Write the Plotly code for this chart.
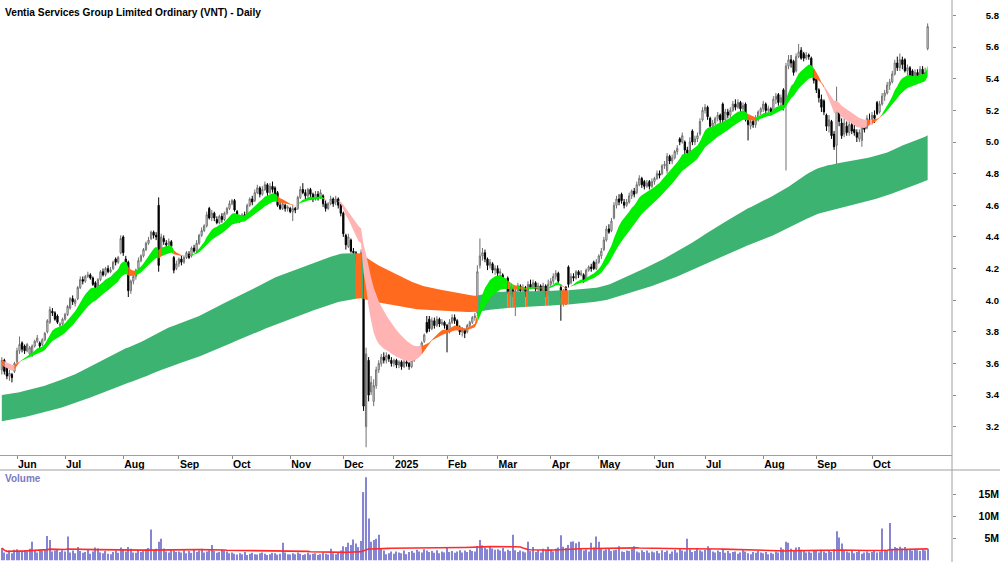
import numpy as np
import pandas as pd
import plotly.graph_objects as go

TITLE = "Ventia Services Group Limited Ordinary (VNT) - Daily"

# ---- trading calendar (ASX) ----
START, END = "2024-05-24", "2025-10-31"
HOLIDAYS = ["2024-06-10", "2024-12-25", "2024-12-26", "2025-01-01", "2025-01-27",
            "2025-04-18", "2025-04-21", "2025-04-25", "2025-06-09"]
month_labels = ["Jun", "Jul", "Aug", "Sep", "Oct", "Nov", "Dec", "2025", "Feb", "Mar",
                "Apr", "May", "Jun", "Jul", "Aug", "Sep", "Oct"]
price_ticks = [3.2, 3.4, 3.6, 3.8, 4.0, 4.2, 4.4, 4.6, 4.8, 5.0, 5.2, 5.4, 5.6, 5.8]
volume_ticks = [5e6, 10e6, 15e6]
volume_tick_text = ["5M", "10M", "15M"]

# ---- daily prices (one row per month) ----
opens = [
 3.56,3.62,3.58,3.52,3.53,3.55,
 3.61,3.68,3.73,3.71,3.68,3.66,3.65,3.71,3.74,3.73,3.72,3.75,3.80,3.86,3.93,3.92,3.90,3.84,3.85,
 3.88,3.91,3.95,4.01,3.98,4.01,4.08,4.13,4.12,4.15,4.16,4.14,4.11,4.08,4.13,4.18,4.16,4.20,4.18,4.20,4.26,4.24,4.30,
 4.40,4.26,4.24,4.06,4.12,4.15,4.20,4.25,4.28,4.32,4.36,4.39,4.43,4.41,4.60,4.30,4.39,4.36,4.35,4.37,4.27,4.20,
 4.23,4.26,4.24,4.27,4.29,4.28,4.33,4.31,4.36,4.41,4.44,4.47,4.58,4.52,4.55,4.51,4.49,4.53,4.51,4.55,4.58,
 4.61,4.63,4.56,4.52,4.51,4.54,4.53,4.60,4.64,4.63,4.68,4.71,4.67,4.70,4.73,4.68,4.72,4.71,4.68,4.60,4.58,4.60,4.58,
 4.58,4.56,4.58,4.58,4.65,4.70,4.68,4.66,4.70,4.67,4.64,4.67,4.65,4.66,4.61,4.58,4.61,4.64,4.62,4.64,4.60,
 4.55,4.41,4.34,4.38,4.31,4.30,4.25,4.22,4.28,3.20,3.62,3.42,3.36,3.46,3.56,3.60,3.64,3.62,3.65,3.62,
 3.60,3.62,3.59,3.61,3.58,3.61,3.60,3.58,3.62,3.64,3.66,3.70,3.74,3.86,3.88,3.82,3.87,3.84,3.88,3.85,3.86,
 3.84,3.80,3.86,3.89,3.87,3.83,3.80,3.81,3.80,3.84,3.86,3.89,3.92,4.22,4.28,4.30,4.26,4.22,4.23,4.19,
 4.20,4.17,4.16,4.09,4.14,4.05,4.07,4.04,4.06,4.09,4.06,4.08,4.05,4.10,4.08,4.11,4.07,4.09,4.06,4.09,4.04,
 4.10,4.12,4.15,4.17,4.08,4.00,4.08,4.21,4.11,4.15,4.14,4.18,4.16,4.16,4.13,4.19,4.21,4.24,4.20,
 4.24,4.28,4.32,4.38,4.45,4.44,4.52,4.60,4.64,4.67,4.62,4.60,4.62,4.66,4.69,4.68,4.73,4.77,4.75,4.72,4.75,4.72,
 4.75,4.77,4.80,4.80,4.85,4.82,4.91,4.88,4.90,4.94,5.02,5.00,5.00,4.95,4.94,5.07,5.00,5.02,5.05,5.14,
 5.20,5.22,5.15,5.10,5.12,5.15,5.17,5.24,5.14,5.19,5.17,5.20,5.24,5.22,5.25,5.21,5.24,5.15,5.10,5.13,5.11,5.14,5.19,
 5.21,5.24,5.20,5.21,5.20,5.27,5.30,5.25,5.33,5.25,5.48,5.52,5.51,5.45,5.54,5.58,5.56,5.53,5.55,5.53,5.45,
 5.40,5.33,5.27,5.26,5.17,5.10,5.13,5.05,4.98,5.22,5.12,5.05,5.10,5.06,5.11,5.08,5.06,5.02,5.01,5.10,5.09,5.14,
 5.13,5.17,5.25,5.19,5.24,5.29,5.31,5.36,5.38,5.43,5.50,5.47,5.52,5.52,5.45,5.47,5.45,5.40,5.44,5.41,5.46,5.42,5.59,
]
highs = [
 3.64,3.63,3.60,3.56,3.54,3.61,
 3.70,3.77,3.74,3.72,3.73,3.71,3.72,3.75,3.78,3.74,3.76,3.80,3.88,3.96,3.95,3.93,3.91,3.86,3.89,
 3.92,3.97,4.02,4.03,4.01,4.09,4.15,4.15,4.16,4.18,4.17,4.15,4.12,4.14,4.19,4.20,4.21,4.22,4.21,4.25,4.27,4.28,4.41,
 4.41,4.28,4.25,4.13,4.17,4.20,4.27,4.29,4.33,4.37,4.40,4.44,4.44,4.43,4.65,4.42,4.41,4.38,4.39,4.38,4.28,4.25,
 4.27,4.28,4.28,4.31,4.31,4.34,4.35,4.38,4.42,4.46,4.48,4.56,4.59,4.57,4.56,4.53,4.54,4.55,4.56,4.59,4.63,
 4.64,4.64,4.57,4.54,4.55,4.56,4.61,4.65,4.66,4.70,4.73,4.72,4.72,4.75,4.74,4.74,4.75,4.72,4.69,4.62,4.62,4.61,4.60,
 4.59,4.60,4.59,4.66,4.72,4.74,4.70,4.71,4.71,4.68,4.69,4.69,4.70,4.67,4.63,4.62,4.66,4.65,4.66,4.65,4.61,
 4.56,4.42,4.42,4.39,4.33,4.31,4.27,4.32,4.29,3.70,3.64,3.52,3.50,3.58,3.62,3.66,3.67,3.67,3.66,3.64,
 3.63,3.63,3.62,3.62,3.63,3.62,3.61,3.63,3.66,3.68,3.71,3.74,3.79,3.90,3.90,3.89,3.89,3.90,3.89,3.88,3.87,
 3.85,3.88,3.91,3.91,3.88,3.84,3.83,3.82,3.85,3.87,3.90,3.92,4.22,4.39,4.33,4.32,4.27,4.26,4.24,4.22,
 4.22,4.20,4.17,4.13,4.15,4.09,4.08,4.08,4.11,4.10,4.10,4.09,4.12,4.13,4.13,4.12,4.11,4.10,4.11,4.10,4.13,
 4.14,4.17,4.19,4.18,4.10,4.07,4.09,4.22,4.17,4.17,4.19,4.19,4.19,4.17,4.20,4.22,4.23,4.25,4.26,
 4.29,4.33,4.40,4.47,4.48,4.52,4.62,4.66,4.67,4.68,4.64,4.64,4.68,4.70,4.71,4.75,4.79,4.78,4.76,4.76,4.76,4.77,
 4.78,4.82,4.82,4.86,4.88,4.93,4.92,4.92,4.95,4.98,5.03,5.06,5.01,4.97,5.03,5.08,5.04,5.06,5.15,5.22,
 5.24,5.23,5.16,5.14,5.16,5.19,5.18,5.25,5.21,5.21,5.22,5.26,5.27,5.27,5.26,5.25,5.25,5.16,5.15,5.16,5.17,5.20,5.22,
 5.26,5.25,5.23,5.22,5.29,5.31,5.31,5.30,5.34,5.50,5.55,5.55,5.52,5.56,5.62,5.60,5.57,5.57,5.56,5.54,5.46,
 5.41,5.34,5.30,5.27,5.18,5.17,5.14,5.07,5.35,5.24,5.15,5.15,5.13,5.13,5.12,5.11,5.08,5.08,5.11,5.13,5.17,5.18,
 5.19,5.20,5.26,5.26,5.31,5.33,5.38,5.40,5.45,5.52,5.54,5.56,5.54,5.53,5.49,5.48,5.46,5.46,5.46,5.48,5.48,5.47,5.75,
]
lows = [
 3.53,3.53,3.50,3.49,3.48,3.54,
 3.60,3.66,3.67,3.66,3.67,3.65,3.64,3.70,3.73,3.69,3.71,3.74,3.79,3.85,3.90,3.87,3.85,3.80,3.84,
 3.87,3.90,3.94,3.97,3.96,4.00,4.07,4.10,4.11,4.14,4.13,4.09,4.07,4.07,4.12,4.15,4.15,4.17,4.17,4.19,4.22,4.23,4.29,
 4.28,4.21,4.02,4.04,4.10,4.13,4.19,4.24,4.27,4.31,4.35,4.38,4.39,4.38,4.18,4.28,4.35,4.33,4.34,4.32,4.17,4.19,
 4.21,4.22,4.23,4.26,4.26,4.27,4.30,4.30,4.35,4.40,4.43,4.46,4.51,4.50,4.50,4.48,4.48,4.49,4.50,4.54,4.57,
 4.60,4.56,4.50,4.49,4.50,4.51,4.52,4.59,4.60,4.62,4.67,4.65,4.66,4.69,4.66,4.67,4.68,4.65,4.59,4.57,4.57,4.56,4.56,
 4.55,4.50,4.55,4.57,4.64,4.67,4.64,4.65,4.64,4.62,4.63,4.63,4.64,4.59,4.56,4.57,4.60,4.59,4.60,4.58,4.53,
 4.40,4.32,4.33,4.30,4.28,4.23,4.20,4.21,3.30,3.07,3.36,3.40,3.33,3.44,3.54,3.58,3.60,3.60,3.61,3.58,
 3.58,3.57,3.57,3.56,3.57,3.58,3.56,3.57,3.61,3.63,3.65,3.69,3.73,3.79,3.80,3.81,3.82,3.83,3.83,3.84,3.82,
 3.67,3.79,3.85,3.85,3.81,3.78,3.77,3.76,3.79,3.83,3.85,3.87,3.90,4.20,4.25,4.24,4.19,4.20,4.17,4.16,
 4.15,4.14,4.07,4.07,4.04,4.03,4.02,3.90,4.05,4.04,4.04,4.02,4.04,4.07,4.07,4.05,4.05,4.05,4.05,4.02,4.03,
 4.08,4.10,4.13,4.10,3.87,3.96,3.97,4.08,4.10,4.12,4.13,4.14,4.15,4.11,4.12,4.18,4.18,4.19,4.19,
 4.23,4.26,4.31,4.37,4.42,4.43,4.51,4.58,4.60,4.61,4.58,4.59,4.61,4.64,4.65,4.67,4.72,4.71,4.70,4.71,4.70,4.71,
 4.73,4.76,4.77,4.79,4.83,4.80,4.86,4.86,4.89,4.92,4.98,4.99,4.92,4.90,4.93,4.98,4.98,5.00,5.04,5.13,
 5.18,5.14,5.08,5.07,5.10,5.13,5.12,5.12,5.13,5.15,5.15,5.19,5.20,5.21,5.19,5.20,5.13,5.01,5.08,5.09,5.09,5.13,5.17,
 5.19,5.18,5.17,5.17,5.19,5.24,5.23,5.23,5.20,4.82,5.46,5.47,5.42,5.44,5.53,5.52,5.51,5.52,5.52,5.44,5.37,
 5.31,5.25,5.19,5.17,5.07,5.06,5.02,4.95,4.61,5.10,5.02,5.03,5.04,5.04,5.05,5.04,5.00,5.00,4.97,5.06,5.08,5.11,
 5.11,5.12,5.17,5.18,5.23,5.26,5.30,5.33,5.37,5.42,5.45,5.45,5.46,5.44,5.42,5.40,5.38,5.38,5.39,5.40,5.41,5.40,5.58,
]
closes = [
 3.62,3.55,3.52,3.54,3.51,3.60,
 3.68,3.72,3.69,3.68,3.72,3.70,3.71,3.74,3.76,3.71,3.75,3.79,3.87,3.94,3.92,3.88,3.86,3.85,3.88,
 3.91,3.96,4.01,3.99,4.00,4.08,4.13,4.12,4.15,4.16,4.14,4.10,4.08,4.13,4.18,4.16,4.20,4.18,4.19,4.24,4.24,4.27,4.39,
 4.30,4.24,4.06,4.12,4.15,4.19,4.25,4.28,4.32,4.36,4.38,4.43,4.41,4.40,4.22,4.40,4.37,4.35,4.37,4.34,4.19,4.23,
 4.26,4.24,4.27,4.30,4.27,4.33,4.31,4.36,4.41,4.44,4.47,4.54,4.52,4.55,4.52,4.49,4.53,4.51,4.55,4.58,4.61,
 4.63,4.57,4.52,4.51,4.54,4.52,4.60,4.64,4.62,4.68,4.71,4.67,4.70,4.73,4.68,4.72,4.70,4.66,4.60,4.58,4.61,4.58,4.59,
 4.56,4.58,4.57,4.65,4.70,4.68,4.66,4.70,4.67,4.64,4.67,4.65,4.68,4.61,4.58,4.61,4.64,4.61,4.64,4.60,4.55,
 4.42,4.35,4.40,4.31,4.30,4.25,4.22,4.30,3.33,3.66,3.40,3.48,3.46,3.56,3.60,3.64,3.62,3.65,3.63,3.60,
 3.62,3.59,3.61,3.58,3.61,3.60,3.58,3.62,3.64,3.66,3.70,3.73,3.78,3.80,3.82,3.87,3.84,3.88,3.85,3.86,3.84,
 3.80,3.86,3.89,3.87,3.83,3.80,3.81,3.79,3.84,3.86,3.89,3.90,4.18,4.28,4.30,4.26,4.22,4.24,4.19,4.20,
 4.17,4.18,4.09,4.11,4.05,4.07,4.04,4.06,4.09,4.06,4.08,4.04,4.10,4.08,4.11,4.07,4.09,4.06,4.09,4.04,4.10,
 4.12,4.15,4.17,4.12,4.02,4.06,3.99,4.10,4.15,4.14,4.18,4.16,4.17,4.12,4.19,4.21,4.20,4.20,4.24,
 4.28,4.31,4.38,4.45,4.43,4.50,4.60,4.64,4.62,4.63,4.60,4.62,4.66,4.69,4.67,4.73,4.77,4.73,4.72,4.74,4.72,4.75,
 4.77,4.80,4.79,4.85,4.86,4.91,4.88,4.90,4.94,4.96,5.00,5.04,4.95,4.93,5.00,5.00,5.02,5.04,5.13,5.20,
 5.22,5.16,5.10,5.12,5.15,5.17,5.14,5.14,5.19,5.17,5.20,5.24,5.22,5.25,5.21,5.23,5.15,5.11,5.13,5.11,5.14,5.19,5.21,
 5.24,5.20,5.21,5.19,5.27,5.29,5.25,5.28,5.22,5.48,5.52,5.50,5.44,5.54,5.57,5.53,5.53,5.55,5.54,5.46,5.39,
 5.33,5.28,5.22,5.19,5.10,5.14,5.04,4.97,5.25,5.13,5.04,5.12,5.06,5.11,5.07,5.06,5.03,5.06,5.10,5.08,5.15,5.13,
 5.17,5.15,5.18,5.24,5.29,5.31,5.36,5.38,5.43,5.50,5.47,5.52,5.49,5.45,5.47,5.42,5.40,5.44,5.41,5.46,5.43,5.44,5.73,
]
# volume in millions of shares
volumes_m = [
 2.8,1.8,1.5,2.2,1.6,2.4,
 2.5,2.1,1.9,2.3,2.0,2.6,4.2,2.2,1.8,2.4,2.1,2.3,5.5,4.6,2.0,2.2,2.5,1.9,2.3,
 2.0,5.4,1.8,2.2,1.6,3.0,2.1,1.7,1.9,2.4,1.5,2.0,2.9,2.7,1.8,1.6,2.1,1.5,1.4,1.9,2.2,1.7,2.9,
 2.4,2.0,3.0,2.6,1.8,1.7,2.2,1.9,2.1,2.5,2.8,7.0,2.3,2.6,4.2,4.9,2.7,2.0,1.8,2.4,2.2,1.9,
 2.0,1.8,2.3,1.6,2.1,1.7,2.4,1.9,2.2,2.6,1.8,2.0,2.3,3.5,2.1,1.7,1.9,2.4,2.2,2.0,1.6,
 1.8,1.5,1.3,1.6,1.4,1.9,1.2,1.5,1.7,1.4,1.3,1.6,1.8,1.5,1.2,1.4,1.7,1.6,1.3,1.5,4.0,1.8,1.4,
 1.3,1.6,1.4,1.8,1.5,1.2,1.4,1.7,1.3,1.5,1.6,1.2,1.4,1.8,1.5,1.3,2.6,1.6,1.4,1.9,2.2,
 3.2,3.0,4.0,3.5,4.7,3.8,3.0,4.4,15.5,18.9,9.5,4.2,4.6,4.9,5.8,2.6,2.2,1.4,1.6,2.0,
 1.5,2.0,1.8,1.6,2.2,1.4,1.9,2.1,1.7,2.4,2.0,1.8,2.5,2.2,1.9,2.1,1.7,2.3,1.6,2.0,1.8,
 2.8,1.9,2.1,1.7,2.0,2.3,1.8,2.2,1.9,2.4,2.1,2.0,3.2,4.6,3.4,2.9,2.5,3.0,2.7,2.4,
 2.5,2.2,2.8,2.0,2.4,2.1,5.8,2.3,1.9,2.2,2.0,1.8,4.2,2.1,3.0,1.9,2.3,1.8,2.6,2.2,3.1,
 2.4,2.0,2.6,2.9,5.7,3.1,2.8,3.5,4.2,4.3,3.9,4.2,2.7,2.2,2.5,2.0,4.0,2.9,5.4,
 4.2,2.6,2.2,2.5,2.8,2.1,2.3,2.4,3.2,2.0,1.9,2.2,2.1,2.6,3.2,2.0,1.8,2.3,1.9,2.2,1.7,2.0,
 1.8,2.1,1.6,2.3,1.9,2.2,1.5,2.0,2.4,1.8,2.6,2.2,2.0,4.9,2.5,1.9,2.1,2.8,2.3,2.0,
 2.4,3.2,2.6,2.0,1.8,2.2,1.9,2.5,1.7,2.1,1.6,1.9,2.0,1.5,1.8,2.3,2.0,1.6,1.4,1.9,1.7,2.1,1.8,
 1.6,1.9,1.4,1.7,1.5,2.0,1.8,2.9,2.5,4.2,4.0,2.6,2.2,2.9,3.0,2.4,2.1,1.8,2.0,1.7,2.3,
 2.1,1.8,2.4,2.0,1.7,2.2,1.9,2.5,6.6,5.2,3.8,2.3,2.0,1.8,2.2,1.6,1.9,2.1,1.5,1.8,2.0,1.7,
 1.9,2.2,1.8,2.0,7.2,2.4,2.1,8.5,2.6,3.0,2.8,3.1,2.7,3.0,2.4,2.6,2.2,2.5,2.3,2.1,2.4,2.2,2.6,
]

# starting levels of the averages, read at the first bar of the chart
SHORT_SEEDS = {10: 3.585, 21: 3.62}
LONG_SEEDS = {140: 3.40, 250: 3.235}

# ---------------------------------------------------------------
dates = [d for d in pd.bdate_range(START, END) if d.strftime("%Y-%m-%d") not in HOLIDAYS]
n = len(dates)
assert len(opens) == len(highs) == len(lows) == len(closes) == len(volumes_m) == n, \
    (n, len(opens), len(highs), len(lows), len(closes), len(volumes_m))
idx = np.arange(n)
C = np.array(closes)
vol = np.array(volumes_m) * 1e6

month_pos = [i for i in range(1, n) if dates[i].month != dates[i - 1].month]


def ema(values, period, seed):
    a = 2.0 / (period + 1)
    out = [seed]
    for v in values[1:]:
        out.append(out[-1] + a * (v - out[-1]))
    return np.array(out)


s_fast, s_slow = [ema(C, p, v) for p, v in SHORT_SEEDS.items()]
l_fast, l_slow = [ema(C, p, v) for p, v in LONG_SEEDS.items()]

GREEN = "#00ee00"
DKGREEN = "#3cb371"
ORANGE = "#ff6a1f"
PINK = "#ffb3b3"

long_cols, short_cols = [], []
for i in range(n):
    lb = True if i == 0 else l_fast[i] >= l_fast[i - 1]
    long_cols.append(DKGREEN if lb else ORANGE)
    slow_up = True if i == 0 else s_slow[i] >= s_slow[i - 1]
    if s_fast[i] < s_slow[i] and not slow_up:
        short_cols.append(PINK)
    elif s_fast[i] > s_slow[i] and slow_up and lb:
        short_cols.append(GREEN)
    else:
        short_cols.append(ORANGE)


def band_traces(upper, lower, cols):
    traces = []
    s = 0
    for i in range(1, n + 1):
        if i == n or cols[i] != cols[s]:
            e = min(i, n - 1)
            xs = list(range(s, e + 1))
            traces.append(go.Scatter(
                x=xs + xs[::-1],
                y=list(upper[s:e + 1]) + list(lower[s:e + 1])[::-1],
                fill="toself", fillcolor=cols[s], mode="lines",
                line=dict(width=0, color=cols[s]), hoverinfo="skip",
                showlegend=False, xaxis="x", yaxis="y"))
            s = i
    return traces


fig = go.Figure()
for t in band_traces(np.maximum(l_fast, l_slow), np.minimum(l_fast, l_slow), long_cols):
    fig.add_trace(t)
for t in band_traces(np.maximum(s_fast, s_slow), np.minimum(s_fast, s_slow), short_cols):
    fig.add_trace(t)

fig.add_trace(go.Candlestick(
    x=idx, open=opens, high=highs, low=lows, close=closes,
    increasing=dict(line=dict(color="#707070", width=1), fillcolor="white"),
    decreasing=dict(line=dict(color="black", width=1), fillcolor="black"),
    whiskerwidth=0, showlegend=False, xaxis="x", yaxis="y"))

vol_ma = pd.Series(vol).rolling(63, min_periods=1).mean().values
fig.add_trace(go.Bar(x=idx, y=vol, width=0.45, marker=dict(color="#8585d3", line=dict(width=0)),
                     showlegend=False, xaxis="x2", yaxis="y2"))
fig.add_trace(go.Scatter(x=idx, y=vol_ma, mode="lines", line=dict(color="#ff2a2a", width=1.6),
                         showlegend=False, xaxis="x2", yaxis="y2"))
# invisible anchors for the label axes
fig.add_trace(go.Scatter(x=[0], y=[4.0], mode="markers", marker=dict(opacity=0),
                         hoverinfo="skip", showlegend=False, xaxis="x", yaxis="y3"))
fig.add_trace(go.Scatter(x=[0], y=[1e6], mode="markers", marker=dict(opacity=0),
                         hoverinfo="skip", showlegend=False, xaxis="x2", yaxis="y4"))

# ---- layout ----
W, H = 1000, 562
plot_right = 952
px_per_bar = (872 - 17) / (month_pos[-1] - month_pos[0])
r0 = month_pos[0] - 17 / px_per_bar
r1 = r0 + plot_right / px_per_bar

price_top, price_bot = 5.8 + 15.5 / 158.15, 3.2 - 28.3 / 158.15
vol_top, vol_bot = (560.3 - 470) / 4.4 * 1e6, -(562 - 560.3) / 4.4 * 1e6

FONT = "Liberation Sans, Arial, sans-serif"
lab = dict(family=FONT, size=10.5, color="black", weight="bold")

fig.update_layout(
    width=W, height=H, margin=dict(l=0, r=0, t=0, b=0),
    paper_bgcolor="white", plot_bgcolor="white", showlegend=False, hovermode=False,
    xaxis=dict(domain=[0, plot_right / W], range=[r0, r1], anchor="y",
               tickvals=month_pos, ticktext=month_labels, ticks="outside", ticklen=3,
               tickcolor="#8c8c8c", showline=True, linecolor="#a0a0a0", linewidth=1,
               showgrid=False, zeroline=False, rangeslider=dict(visible=False),
               tickfont=lab, ticklabelposition="outside right", ticklabelstandoff=-1),
    yaxis=dict(domain=[1 - 455 / H, 1], range=[price_bot, price_top], anchor="x", side="right",
               tickvals=price_ticks, ticks="outside", ticklen=3, tickcolor="#8c8c8c",
               showticklabels=False, showgrid=False, zeroline=False, showline=False),
    yaxis3=dict(overlaying="y", anchor="free", position=0.999, side="left",
                range=[price_bot, price_top], tickvals=price_ticks,
                ticktext=[f"{v:.1f}" for v in price_ticks], ticks="",
                showgrid=False, zeroline=False, showline=False,
                tickfont=dict(family=FONT, size=9.5, color="black", weight="bold")),
    xaxis2=dict(domain=[0, plot_right / W], range=[r0, r1], anchor="y2", matches="x",
                showticklabels=False, ticks="", showline=False, showgrid=False, zeroline=False),
    yaxis2=dict(domain=[0, 1 - 470 / H], range=[vol_bot, vol_top], anchor="x2", side="right",
                tickvals=volume_ticks, ticks="outside", ticklen=3, tickcolor="#8c8c8c",
                showticklabels=False, showgrid=False, zeroline=False, showline=False),
    yaxis4=dict(overlaying="y2", anchor="free", position=0.999, side="left",
                range=[vol_bot, vol_top], tickvals=volume_ticks, ticktext=volume_tick_text,
                ticks="", showgrid=False, zeroline=False, showline=False, tickfont=lab),
    shapes=[
        dict(type="line", xref="paper", yref="paper", x0=plot_right / W, x1=plot_right / W,
             y0=0, y1=1, line=dict(color="#a0a0a0", width=1)),
        dict(type="line", xref="paper", yref="paper", x0=0, x1=1,
             y0=1 - 470 / H, y1=1 - 470 / H, line=dict(color="#a0a0a0", width=1)),
    ],
    annotations=[
        dict(text=TITLE, xref="paper", yref="paper", x=3 / W, y=1 - 12 / H,
             xanchor="left", yanchor="middle", showarrow=False,
             font=dict(family=FONT, size=10.2, color="black", weight="bold")),
        dict(text="Volume", xref="paper", yref="paper", x=3 / W, y=1 - 478 / H,
             xanchor="left", yanchor="middle", showarrow=False,
             font=dict(family=FONT, size=10, color="#7a7ac2", weight="bold")),
    ],
)

fig.write_html("out.html")
